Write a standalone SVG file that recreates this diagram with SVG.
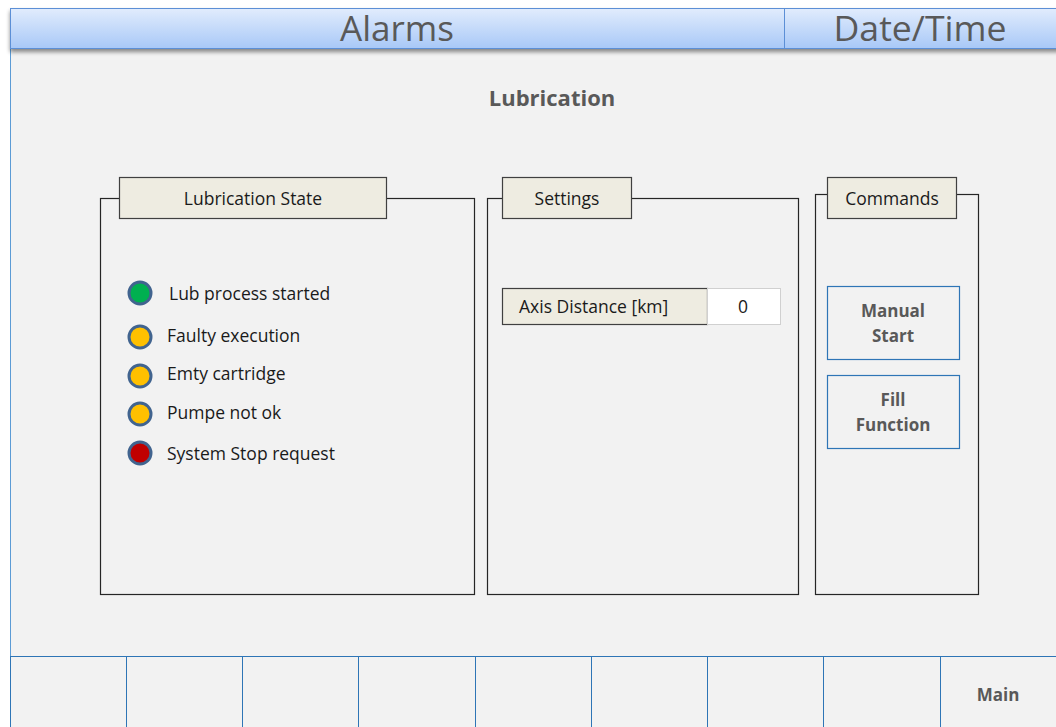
<svg xmlns="http://www.w3.org/2000/svg" width="1056" height="727" viewBox="0 0 1056 727">
<defs>
<linearGradient id="hdr" x1="0" y1="0" x2="0" y2="1">
<stop offset="0" stop-color="#e1ecfd"/>
<stop offset="1" stop-color="#a8c8f7"/>
</linearGradient>
<filter id="sh" x="-5%" y="-20%" width="110%" height="160%">
<feGaussianBlur in="SourceAlpha" stdDeviation="2"/>
<feOffset dy="3"/>
<feComponentTransfer><feFuncA type="linear" slope="0.45"/></feComponentTransfer>
<feMerge><feMergeNode/><feMergeNode in="SourceGraphic"/></feMerge>
</filter>
<style>
text{font-family:"Open Sans","Liberation Sans",sans-serif;}
.hdr{fill:url(#hdr);stroke:#5b8fd6;stroke-width:1;}
.hdrt{font-size:34px;fill:#595959;text-anchor:middle;font-weight:normal;}
.frame{fill:none;stroke:#262626;stroke-width:1.2;}
.tab{fill:#eeece1;stroke:#404040;stroke-width:1.2;}
.lbl{font-size:17.5px;fill:#1a1a1a;}
.mid{text-anchor:middle;}
.led{stroke:#41648f;stroke-width:3;}
.btn{fill:#f2f2f2;stroke:#2e75b6;stroke-width:1.2;}
.btnt{font-size:17px;font-weight:bold;fill:#595959;text-anchor:middle;}
.fk{fill:#f2f2f2;stroke:#2e75b6;stroke-width:1;}
</style>
</defs>
<rect x="0" y="0" width="1056" height="727" fill="#ffffff"/>
<rect id="screen" x="10.5" y="8.5" width="1050" height="730" fill="#f2f2f2" stroke="#5b9bd5" stroke-width="1"/>
<g id="header" filter="url(#sh)">
<rect class="hdr" x="10.5" y="8.5" width="774" height="40"/>
<rect class="hdr" x="784.5" y="8.5" width="280" height="40"/>
</g>
<text class="hdrt" x="397" y="41" textLength="114" lengthAdjust="spacingAndGlyphs">Alarms</text>
<text class="hdrt" x="920" y="41" textLength="173" lengthAdjust="spacingAndGlyphs">Date/Time</text>
<text id="title" x="552" y="106" font-size="22" font-weight="bold" fill="#595959" text-anchor="middle">Lubrication</text>

<g id="lubstate">
<rect class="frame" x="100.5" y="198.5" width="374" height="396"/>
<rect class="tab" x="119.5" y="177.5" width="267" height="41"/>
<text class="lbl mid" x="253" y="205">Lubrication State</text>
<circle class="led" cx="140" cy="293" r="11" fill="#00b050"/>
<text class="lbl" x="169" y="300">Lub process started</text>
<circle class="led" cx="140" cy="337" r="11" fill="#ffc000"/>
<text class="lbl" x="167" y="342">Faulty execution</text>
<circle class="led" cx="140" cy="376" r="11" fill="#ffc000"/>
<text class="lbl" x="167" y="380">Emty cartridge</text>
<circle class="led" cx="140" cy="414" r="11" fill="#ffc000"/>
<text class="lbl" x="167" y="419">Pumpe not ok</text>
<circle class="led" cx="140" cy="453" r="11" fill="#c00000"/>
<text class="lbl" x="167" y="460">System Stop request</text>
</g>

<g id="settings">
<rect class="frame" x="487.5" y="198.5" width="311" height="396"/>
<rect class="tab" x="502.5" y="177.5" width="129" height="41"/>
<text class="lbl mid" x="567" y="205">Settings</text>
<rect x="502.5" y="288.5" width="205" height="36" fill="#eeece1" stroke="#404040" stroke-width="1.2"/>
<rect x="707.5" y="288.5" width="73" height="36" fill="#ffffff" stroke="#d0d0d0" stroke-width="1"/>
<text class="lbl" x="519" y="313">Axis Distance [km]</text>
<text class="lbl mid" x="743" y="313">0</text>
</g>

<g id="commands">
<rect class="frame" x="815.5" y="194.5" width="163" height="400"/>
<rect class="tab" x="827.5" y="177.5" width="129" height="41"/>
<text class="lbl mid" x="892" y="205">Commands</text>
<g id="manualstart">
<rect class="btn" x="827.5" y="286.5" width="132" height="73"/>
<text class="btnt" x="893" y="317">Manual</text>
<text class="btnt" x="893" y="342">Start</text>
</g>
<g id="fillfunction">
<rect class="btn" x="827.5" y="375.5" width="132" height="73"/>
<text class="btnt" x="893" y="406">Fill</text>
<text class="btnt" x="893" y="431">Function</text>
</g>
</g>

<g id="footer">
<rect class="fk" x="10.5" y="656.5" width="116" height="80"/>
<rect class="fk" x="126.5" y="656.5" width="116" height="80"/>
<rect class="fk" x="242.5" y="656.5" width="116" height="80"/>
<rect class="fk" x="358.5" y="656.5" width="117" height="80"/>
<rect class="fk" x="475.5" y="656.5" width="116" height="80"/>
<rect class="fk" x="591.5" y="656.5" width="116" height="80"/>
<rect class="fk" x="707.5" y="656.5" width="116" height="80"/>
<rect class="fk" x="823.5" y="656.5" width="117" height="80"/>
<rect class="fk" x="940.5" y="656.5" width="120" height="80"/>
<text class="btnt" x="998" y="701" font-size="18.5">Main</text>
</g>
</svg>
